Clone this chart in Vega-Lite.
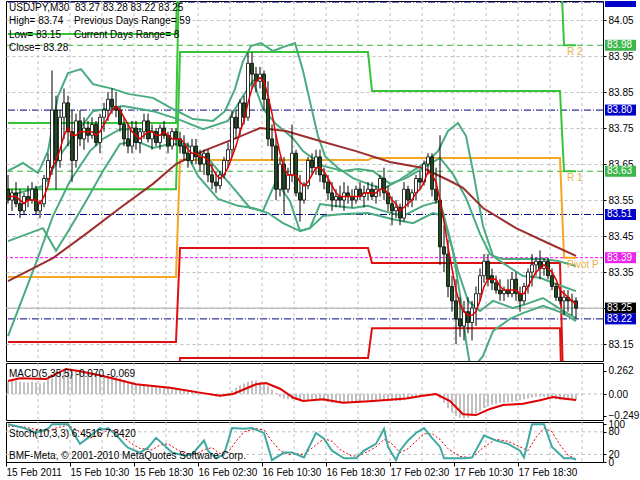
{
"$schema":"https://vega.github.io/schema/vega-lite/v6.json",
"background":"white",
"padding":{"left":3,"top":0,"right":0,"bottom":0},
"autosize":{"type":"pad"},
"bounds":"flush",
"spacing":2,
"config":{"font":"Liberation Sans","scale":{"continuousPadding":0},"view":{"stroke":"black","strokeWidth":1},"axis":{"labelFont":"Liberation Sans","labelFontSize":10,"labelColor":"black","tickColor":"black","domainColor":"black"}},
"datasets":{
"vg":[{"i":7.5},{"i":15.5},{"i":23.5},{"i":31.5},{"i":39.5},{"i":47.5},{"i":55.5},{"i":63.5},{"i":71.5},{"i":79.5},{"i":87.5},{"i":95.5},{"i":103.5},{"i":111.5},{"i":119.5},{"i":127.5},{"i":135.5},{"i":143.5}],
"bars":[
{"i":0,"o":83.58,"h":83.62,"l":83.54,"c":83.55,"m":83.56,"mh":0.14},
{"i":1,"o":83.55,"h":83.58,"l":83.52,"c":83.57,"m":83.56,"mh":0.15},
{"i":2,"o":83.57,"h":83.60,"l":83.53,"c":83.54,"m":83.56,"mh":0.15},
{"i":3,"o":83.54,"h":83.58,"l":83.50,"c":83.52,"m":83.55,"mh":0.14},
{"i":4,"o":83.52,"h":83.57,"l":83.51,"c":83.56,"m":83.54,"mh":0.13},
{"i":5,"o":83.56,"h":83.59,"l":83.53,"c":83.55,"m":83.55,"mh":0.13},
{"i":6,"o":83.55,"h":83.60,"l":83.54,"c":83.58,"m":83.55,"mh":0.14},
{"i":7,"o":83.58,"h":83.59,"l":83.51,"c":83.52,"m":83.55,"mh":0.13},
{"i":8,"o":83.52,"h":83.55,"l":83.50,"c":83.54,"m":83.54,"mh":0.12},
{"i":9,"o":83.54,"h":83.62,"l":83.53,"c":83.61,"m":83.56,"mh":0.13},
{"i":10,"o":83.61,"h":83.68,"l":83.59,"c":83.66,"m":83.59,"mh":0.17},
{"i":11,"o":83.64,"h":83.91,"l":83.62,"c":83.80,"m":83.64,"mh":0.22},
{"i":12,"o":83.80,"h":83.84,"l":83.58,"c":83.66,"m":83.66,"mh":0.25},
{"i":13,"o":83.66,"h":83.80,"l":83.64,"c":83.78,"m":83.69,"mh":0.27},
{"i":14,"o":83.78,"h":83.86,"l":83.72,"c":83.82,"m":83.73,"mh":0.28},
{"i":15,"o":83.82,"h":83.84,"l":83.70,"c":83.74,"m":83.75,"mh":0.28},
{"i":16,"o":83.74,"h":83.80,"l":83.60,"c":83.66,"m":83.73,"mh":0.26},
{"i":17,"o":83.66,"h":83.79,"l":83.64,"c":83.77,"m":83.73,"mh":0.26},
{"i":18,"o":83.77,"h":83.80,"l":83.70,"c":83.72,"m":83.74,"mh":0.25},
{"i":19,"o":83.72,"h":83.78,"l":83.69,"c":83.75,"m":83.74,"mh":0.25},
{"i":20,"o":83.75,"h":83.77,"l":83.71,"c":83.73,"m":83.74,"mh":0.24},
{"i":21,"o":83.73,"h":83.78,"l":83.72,"c":83.76,"m":83.74,"mh":0.23},
{"i":22,"o":83.76,"h":83.77,"l":83.70,"c":83.71,"m":83.73,"mh":0.22},
{"i":23,"o":83.71,"h":83.79,"l":83.68,"c":83.78,"m":83.74,"mh":0.21},
{"i":24,"o":83.78,"h":83.82,"l":83.74,"c":83.80,"m":83.76,"mh":0.21},
{"i":25,"o":83.80,"h":83.85,"l":83.77,"c":83.83,"m":83.78,"mh":0.21},
{"i":26,"o":83.83,"h":83.86,"l":83.79,"c":83.81,"m":83.80,"mh":0.21},
{"i":27,"o":83.81,"h":83.85,"l":83.78,"c":83.80,"m":83.81,"mh":0.20},
{"i":28,"o":83.80,"h":83.81,"l":83.74,"c":83.76,"m":83.80,"mh":0.18},
{"i":29,"o":83.76,"h":83.78,"l":83.70,"c":83.72,"m":83.78,"mh":0.16},
{"i":30,"o":83.72,"h":83.76,"l":83.68,"c":83.70,"m":83.76,"mh":0.14},
{"i":31,"o":83.70,"h":83.77,"l":83.68,"c":83.75,"m":83.74,"mh":0.12},
{"i":32,"o":83.75,"h":83.77,"l":83.69,"c":83.71,"m":83.73,"mh":0.11},
{"i":33,"o":83.71,"h":83.75,"l":83.68,"c":83.74,"m":83.72,"mh":0.10},
{"i":34,"o":83.74,"h":83.79,"l":83.72,"c":83.77,"m":83.73,"mh":0.10},
{"i":35,"o":83.77,"h":83.79,"l":83.71,"c":83.72,"m":83.74,"mh":0.10},
{"i":36,"o":83.72,"h":83.76,"l":83.69,"c":83.74,"m":83.74,"mh":0.09},
{"i":37,"o":83.74,"h":83.75,"l":83.70,"c":83.71,"m":83.73,"mh":0.09},
{"i":38,"o":83.71,"h":83.76,"l":83.69,"c":83.75,"m":83.73,"mh":0.08},
{"i":39,"o":83.75,"h":83.77,"l":83.72,"c":83.73,"m":83.74,"mh":0.08},
{"i":40,"o":83.73,"h":83.74,"l":83.68,"c":83.70,"m":83.73,"mh":0.07},
{"i":41,"o":83.70,"h":83.75,"l":83.69,"c":83.74,"m":83.72,"mh":0.07},
{"i":42,"o":83.74,"h":83.75,"l":83.70,"c":83.72,"m":83.72,"mh":0.07},
{"i":43,"o":83.72,"h":83.74,"l":83.68,"c":83.70,"m":83.72,"mh":0.06},
{"i":44,"o":83.70,"h":83.73,"l":83.66,"c":83.68,"m":83.71,"mh":0.05},
{"i":45,"o":83.68,"h":83.71,"l":83.64,"c":83.66,"m":83.69,"mh":0.04},
{"i":46,"o":83.66,"h":83.72,"l":83.65,"c":83.70,"m":83.68,"mh":0.03},
{"i":47,"o":83.70,"h":83.72,"l":83.65,"c":83.67,"m":83.68,"mh":0.03},
{"i":48,"o":83.67,"h":83.69,"l":83.63,"c":83.65,"m":83.67,"mh":0.02},
{"i":49,"o":83.65,"h":83.69,"l":83.62,"c":83.68,"m":83.67,"mh":0.01},
{"i":50,"o":83.68,"h":83.69,"l":83.60,"c":83.62,"m":83.66,"mh":0.00},
{"i":51,"o":83.62,"h":83.65,"l":83.58,"c":83.60,"m":83.64,"mh":-0.02},
{"i":52,"o":83.60,"h":83.63,"l":83.57,"c":83.59,"m":83.62,"mh":-0.03},
{"i":53,"o":83.59,"h":83.63,"l":83.58,"c":83.62,"m":83.61,"mh":-0.03},
{"i":54,"o":83.62,"h":83.67,"l":83.61,"c":83.66,"m":83.62,"mh":-0.02},
{"i":55,"o":83.66,"h":83.71,"l":83.64,"c":83.69,"m":83.64,"mh":0.01},
{"i":56,"o":83.69,"h":83.80,"l":83.67,"c":83.78,"m":83.67,"mh":0.04},
{"i":57,"o":83.78,"h":83.80,"l":83.72,"c":83.75,"m":83.70,"mh":0.07},
{"i":58,"o":83.75,"h":83.83,"l":83.73,"c":83.82,"m":83.74,"mh":0.10},
{"i":59,"o":83.82,"h":83.84,"l":83.76,"c":83.78,"m":83.77,"mh":0.12},
{"i":60,"o":83.78,"h":83.96,"l":83.77,"c":83.93,"m":83.82,"mh":0.14},
{"i":61,"o":83.93,"h":83.96,"l":83.86,"c":83.90,"m":83.86,"mh":0.15},
{"i":62,"o":83.90,"h":83.92,"l":83.85,"c":83.88,"m":83.88,"mh":0.15},
{"i":63,"o":83.88,"h":83.92,"l":83.86,"c":83.90,"m":83.89,"mh":0.14},
{"i":64,"o":83.90,"h":83.91,"l":83.80,"c":83.83,"m":83.88,"mh":0.12},
{"i":65,"o":83.83,"h":83.88,"l":83.70,"c":83.72,"m":83.84,"mh":0.09},
{"i":66,"o":83.72,"h":83.76,"l":83.66,"c":83.70,"m":83.79,"mh":0.05},
{"i":67,"o":83.70,"h":83.73,"l":83.55,"c":83.58,"m":83.73,"mh":0.01},
{"i":68,"o":83.58,"h":83.67,"l":83.56,"c":83.65,"m":83.68,"mh":-0.03},
{"i":69,"o":83.65,"h":83.67,"l":83.51,"c":83.58,"m":83.64,"mh":-0.05},
{"i":70,"o":83.58,"h":83.64,"l":83.57,"c":83.62,"m":83.62,"mh":-0.06},
{"i":71,"o":83.62,"h":83.76,"l":83.60,"c":83.68,"m":83.62,"mh":-0.06},
{"i":72,"o":83.68,"h":83.69,"l":83.56,"c":83.57,"m":83.62,"mh":-0.07},
{"i":73,"o":83.57,"h":83.62,"l":83.49,"c":83.55,"m":83.60,"mh":-0.08},
{"i":74,"o":83.55,"h":83.60,"l":83.54,"c":83.59,"m":83.59,"mh":-0.08},
{"i":75,"o":83.59,"h":83.67,"l":83.58,"c":83.66,"m":83.60,"mh":-0.07},
{"i":76,"o":83.66,"h":83.68,"l":83.62,"c":83.64,"m":83.62,"mh":-0.06},
{"i":77,"o":83.64,"h":83.69,"l":83.62,"c":83.67,"m":83.64,"mh":-0.06},
{"i":78,"o":83.67,"h":83.69,"l":83.60,"c":83.62,"m":83.64,"mh":-0.07},
{"i":79,"o":83.62,"h":83.64,"l":83.58,"c":83.60,"m":83.63,"mh":-0.08},
{"i":80,"o":83.60,"h":83.62,"l":83.55,"c":83.57,"m":83.61,"mh":-0.09},
{"i":81,"o":83.57,"h":83.60,"l":83.52,"c":83.55,"m":83.59,"mh":-0.10},
{"i":82,"o":83.55,"h":83.58,"l":83.53,"c":83.56,"m":83.57,"mh":-0.10},
{"i":83,"o":83.56,"h":83.59,"l":83.53,"c":83.55,"m":83.56,"mh":-0.10},
{"i":84,"o":83.55,"h":83.60,"l":83.52,"c":83.57,"m":83.56,"mh":-0.09},
{"i":85,"o":83.57,"h":83.59,"l":83.54,"c":83.56,"m":83.56,"mh":-0.09},
{"i":86,"o":83.56,"h":83.58,"l":83.53,"c":83.55,"m":83.56,"mh":-0.08},
{"i":87,"o":83.55,"h":83.59,"l":83.54,"c":83.58,"m":83.56,"mh":-0.08},
{"i":88,"o":83.58,"h":83.60,"l":83.55,"c":83.56,"m":83.56,"mh":-0.08},
{"i":89,"o":83.56,"h":83.59,"l":83.53,"c":83.57,"m":83.57,"mh":-0.07},
{"i":90,"o":83.57,"h":83.60,"l":83.55,"c":83.58,"m":83.57,"mh":-0.07},
{"i":91,"o":83.58,"h":83.60,"l":83.55,"c":83.56,"m":83.57,"mh":-0.07},
{"i":92,"o":83.56,"h":83.59,"l":83.54,"c":83.58,"m":83.57,"mh":-0.07},
{"i":93,"o":83.58,"h":83.62,"l":83.56,"c":83.61,"m":83.58,"mh":-0.06},
{"i":94,"o":83.61,"h":83.64,"l":83.55,"c":83.57,"m":83.58,"mh":-0.06},
{"i":95,"o":83.57,"h":83.59,"l":83.52,"c":83.54,"m":83.57,"mh":-0.07},
{"i":96,"o":83.54,"h":83.56,"l":83.48,"c":83.52,"m":83.55,"mh":-0.08},
{"i":97,"o":83.52,"h":83.55,"l":83.50,"c":83.53,"m":83.54,"mh":-0.08},
{"i":98,"o":83.53,"h":83.54,"l":83.48,"c":83.50,"m":83.52,"mh":-0.08},
{"i":99,"o":83.50,"h":83.60,"l":83.49,"c":83.58,"m":83.53,"mh":-0.07},
{"i":100,"o":83.58,"h":83.59,"l":83.53,"c":83.55,"m":83.54,"mh":-0.06},
{"i":101,"o":83.55,"h":83.58,"l":83.53,"c":83.57,"m":83.55,"mh":-0.05},
{"i":102,"o":83.57,"h":83.62,"l":83.55,"c":83.61,"m":83.57,"mh":-0.04},
{"i":103,"o":83.61,"h":83.63,"l":83.58,"c":83.60,"m":83.58,"mh":-0.03},
{"i":104,"o":83.60,"h":83.66,"l":83.59,"c":83.65,"m":83.60,"mh":-0.02},
{"i":105,"o":83.65,"h":83.68,"l":83.62,"c":83.67,"m":83.63,"mh":-0.01},
{"i":106,"o":83.67,"h":83.68,"l":83.56,"c":83.58,"m":83.62,"mh":0.00},
{"i":107,"o":83.58,"h":83.64,"l":83.54,"c":83.55,"m":83.60,"mh":-0.01},
{"i":108,"o":83.55,"h":83.73,"l":83.37,"c":83.42,"m":83.55,"mh":-0.05},
{"i":109,"o":83.42,"h":83.48,"l":83.35,"c":83.40,"m":83.49,"mh":-0.10},
{"i":110,"o":83.40,"h":83.44,"l":83.28,"c":83.31,"m":83.42,"mh":-0.16},
{"i":111,"o":83.31,"h":83.34,"l":83.24,"c":83.27,"m":83.36,"mh":-0.21},
{"i":112,"o":83.27,"h":83.33,"l":83.15,"c":83.22,"m":83.30,"mh":-0.25},
{"i":113,"o":83.22,"h":83.28,"l":83.17,"c":83.20,"m":83.26,"mh":-0.27},
{"i":114,"o":83.20,"h":83.27,"l":83.16,"c":83.24,"m":83.24,"mh":-0.28},
{"i":115,"o":83.24,"h":83.28,"l":83.18,"c":83.21,"m":83.23,"mh":-0.27},
{"i":116,"o":83.21,"h":83.27,"l":83.16,"c":83.25,"m":83.23,"mh":-0.25},
{"i":117,"o":83.25,"h":83.31,"l":83.20,"c":83.29,"m":83.24,"mh":-0.22},
{"i":118,"o":83.29,"h":83.36,"l":83.27,"c":83.34,"m":83.27,"mh":-0.19},
{"i":119,"o":83.34,"h":83.40,"l":83.32,"c":83.38,"m":83.31,"mh":-0.16},
{"i":120,"o":83.38,"h":83.40,"l":83.31,"c":83.33,"m":83.33,"mh":-0.14},
{"i":121,"o":83.34,"h":83.36,"l":83.30,"c":83.32,"m":83.33,"mh":-0.12},
{"i":122,"o":83.32,"h":83.34,"l":83.29,"c":83.30,"m":83.33,"mh":-0.11},
{"i":123,"o":83.30,"h":83.33,"l":83.27,"c":83.29,"m":83.31,"mh":-0.10},
{"i":124,"o":83.29,"h":83.31,"l":83.27,"c":83.30,"m":83.30,"mh":-0.10},
{"i":125,"o":83.30,"h":83.33,"l":83.28,"c":83.29,"m":83.30,"mh":-0.09},
{"i":126,"o":83.29,"h":83.35,"l":83.28,"c":83.33,"m":83.30,"mh":-0.09},
{"i":127,"o":83.33,"h":83.35,"l":83.27,"c":83.29,"m":83.30,"mh":-0.08},
{"i":128,"o":83.29,"h":83.31,"l":83.24,"c":83.27,"m":83.29,"mh":-0.07},
{"i":129,"o":83.27,"h":83.32,"l":83.26,"c":83.31,"m":83.29,"mh":-0.06},
{"i":130,"o":83.31,"h":83.36,"l":83.29,"c":83.35,"m":83.31,"mh":-0.05},
{"i":131,"o":83.35,"h":83.40,"l":83.31,"c":83.37,"m":83.33,"mh":-0.04},
{"i":132,"o":83.37,"h":83.39,"l":83.34,"c":83.38,"m":83.35,"mh":-0.03},
{"i":133,"o":83.38,"h":83.41,"l":83.33,"c":83.36,"m":83.36,"mh":-0.03},
{"i":134,"o":83.36,"h":83.39,"l":83.34,"c":83.38,"m":83.37,"mh":-0.03},
{"i":135,"o":83.38,"h":83.39,"l":83.33,"c":83.34,"m":83.36,"mh":-0.04},
{"i":136,"o":83.34,"h":83.36,"l":83.30,"c":83.31,"m":83.35,"mh":-0.05},
{"i":137,"o":83.31,"h":83.32,"l":83.27,"c":83.28,"m":83.33,"mh":-0.06},
{"i":138,"o":83.28,"h":83.30,"l":83.26,"c":83.27,"m":83.30,"mh":-0.07},
{"i":139,"o":83.27,"h":83.30,"l":83.23,"c":83.28,"m":83.29,"mh":-0.07},
{"i":140,"o":83.28,"h":83.30,"l":83.24,"c":83.27,"m":83.28,"mh":-0.07},
{"i":141,"o":83.27,"h":83.29,"l":83.23,"c":83.27,"m":83.27,"mh":-0.07},
{"i":142,"o":83.27,"h":83.28,"l":83.22,"c":83.25,"m":83.26,"mh":-0.07}
],
"piv":[
{"s":"R3","i":0,"v":84.011},{"s":"R3","i":42,"v":84.011},{"s":"R3","i":43,"v":84.45},{"s":"R3","i":138,"v":84.45},{"s":"R3","i":139,"v":84.35},{"s":"R3","i":142,"v":84.35},
{"s":"R2","i":0,"v":83.764},{"s":"R2","i":42,"v":83.764},{"s":"R2","i":43,"v":84.3},{"s":"R2","i":90,"v":84.3},{"s":"R2","i":91,"v":84.25},{"s":"R2","i":138,"v":84.25},{"s":"R2","i":139,"v":83.98},{"s":"R2","i":142,"v":83.98},
{"s":"R1","i":0,"v":83.58},{"s":"R1","i":42,"v":83.58},{"s":"R1","i":43,"v":83.961},{"s":"R1","i":90,"v":83.961},{"s":"R1","i":91,"v":83.853},{"s":"R1","i":138,"v":83.853},{"s":"R1","i":139,"v":83.63},{"s":"R1","i":142,"v":83.63},
{"s":"P","i":0,"v":83.336},{"s":"P","i":42,"v":83.336},{"s":"P","i":43,"v":83.661},{"s":"P","i":90,"v":83.661},{"s":"P","i":91,"v":83.667},{"s":"P","i":138,"v":83.667},{"s":"P","i":139,"v":83.39},{"s":"P","i":142,"v":83.39},
{"s":"S1","i":0,"v":83.156},{"s":"S1","i":42,"v":83.156},{"s":"S1","i":43,"v":83.417},{"s":"S1","i":90,"v":83.417},{"s":"S1","i":91,"v":83.375},{"s":"S1","i":138,"v":83.375},{"s":"S1","i":139,"v":82.95},{"s":"S1","i":142,"v":82.95},
{"s":"S2","i":0,"v":82.9},{"s":"S2","i":42,"v":82.9},{"s":"S2","i":43,"v":83.111},{"s":"S2","i":90,"v":83.111},{"s":"S2","i":91,"v":83.194},{"s":"S2","i":138,"v":83.194},{"s":"S2","i":139,"v":82.75},{"s":"S2","i":142,"v":82.75}
],
"bands":[
{"s":"U2","i":0,"v":83.631},{"s":"U2","i":3.75,"v":83.653},{"s":"U2","i":7.5,"v":83.625},{"s":"U2","i":10,"v":83.686},{"s":"U2","i":12.5,"v":83.839},{"s":"U2","i":15,"v":83.903},{"s":"U2","i":18.25,"v":83.914},{"s":"U2","i":21.25,"v":83.872},{"s":"U2","i":26.25,"v":83.859},{"s":"U2","i":30,"v":83.845},{"s":"U2","i":36.25,"v":83.834},{"s":"U2","i":41.25,"v":83.803},{"s":"U2","i":46.25,"v":83.775},{"s":"U2","i":51.25,"v":83.77},{"s":"U2","i":54.25,"v":83.797},{"s":"U2","i":56.75,"v":83.859},{"s":"U2","i":58.75,"v":83.936},{"s":"U2","i":60.75,"v":83.978},{"s":"U2","i":63.25,"v":83.986},{"s":"U2","i":66.25,"v":83.964},{"s":"U2","i":68.75,"v":83.975},{"s":"U2","i":71.75,"v":83.986},{"s":"U2","i":73.75,"v":83.909},{"s":"U2","i":75.75,"v":83.811},{"s":"U2","i":77.5,"v":83.728},{"s":"U2","i":79.25,"v":83.672},{"s":"U2","i":82.5,"v":83.639},{"s":"U2","i":86.25,"v":83.611},{"s":"U2","i":90,"v":83.595},{"s":"U2","i":93.75,"v":83.581},{"s":"U2","i":97.5,"v":83.603},{"s":"U2","i":101.25,"v":83.631},{"s":"U2","i":105,"v":83.659},{"s":"U2","i":107.5,"v":83.686},{"s":"U2","i":110,"v":83.742},{"s":"U2","i":112.5,"v":83.764},{"s":"U2","i":114.5,"v":83.728},{"s":"U2","i":116.25,"v":83.631},{"s":"U2","i":118.75,"v":83.478},{"s":"U2","i":121.25,"v":83.395},{"s":"U2","i":123.75,"v":83.386},{"s":"U2","i":128.75,"v":83.386},{"s":"U2","i":133.75,"v":83.386},{"s":"U2","i":137.5,"v":83.381},{"s":"U2","i":142,"v":83.367},
{"s":"U1","i":0,"v":83.561},{"s":"U1","i":8.75,"v":83.589},{"s":"U1","i":13.75,"v":83.686},{"s":"U1","i":21.25,"v":83.797},{"s":"U1","i":28.75,"v":83.811},{"s":"U1","i":36.25,"v":83.797},{"s":"U1","i":42.5,"v":83.775},{"s":"U1","i":48.75,"v":83.747},{"s":"U1","i":55,"v":83.77},{"s":"U1","i":58.75,"v":83.839},{"s":"U1","i":61.25,"v":83.881},{"s":"U1","i":63.75,"v":83.803},{"s":"U1","i":67,"v":83.761},{"s":"U1","i":71.25,"v":83.722},{"s":"U1","i":73.75,"v":83.686},{"s":"U1","i":78.75,"v":83.645},{"s":"U1","i":83.75,"v":83.631},{"s":"U1","i":87.5,"v":83.636},{"s":"U1","i":91.25,"v":83.631},{"s":"U1","i":95.5,"v":83.595},{"s":"U1","i":99.5,"v":83.611},{"s":"U1","i":103.75,"v":83.639},{"s":"U1","i":108,"v":83.667},{"s":"U1","i":111.25,"v":83.622},{"s":"U1","i":114.5,"v":83.556},{"s":"U1","i":118,"v":83.456},{"s":"U1","i":120.5,"v":83.4},{"s":"U1","i":123.75,"v":83.375},{"s":"U1","i":128.75,"v":83.339},{"s":"U1","i":133,"v":83.334},{"s":"U1","i":137,"v":83.317},{"s":"U1","i":142,"v":83.297},
{"s":"L1","i":0,"v":83.436},{"s":"L1","i":8.75,"v":83.472},{"s":"L1","i":12,"v":83.409},{"s":"L1","i":15.5,"v":83.472},{"s":"L1","i":19.5,"v":83.547},{"s":"L1","i":23.75,"v":83.631},{"s":"L1","i":28,"v":83.706},{"s":"L1","i":32,"v":83.714},{"s":"L1","i":36.25,"v":83.695},{"s":"L1","i":40.5,"v":83.706},{"s":"L1","i":44.5,"v":83.706},{"s":"L1","i":50.5,"v":83.659},{"s":"L1","i":57,"v":83.575},{"s":"L1","i":60.5,"v":83.528},{"s":"L1","i":63.75,"v":83.52},{"s":"L1","i":67,"v":83.603},{"s":"L1","i":70.5,"v":83.547},{"s":"L1","i":73,"v":83.464},{"s":"L1","i":75.5,"v":83.472},{"s":"L1","i":78,"v":83.539},{"s":"L1","i":81.25,"v":83.534},{"s":"L1","i":86.25,"v":83.528},{"s":"L1","i":90,"v":83.534},{"s":"L1","i":93.75,"v":83.52},{"s":"L1","i":98.75,"v":83.506},{"s":"L1","i":103.75,"v":83.534},{"s":"L1","i":108,"v":83.547},{"s":"L1","i":110,"v":83.464},{"s":"L1","i":112.5,"v":83.353},{"s":"L1","i":115,"v":83.27},{"s":"L1","i":118,"v":83.242},{"s":"L1","i":121.25,"v":83.27},{"s":"L1","i":126.25,"v":83.25},{"s":"L1","i":129.5,"v":83.261},{"s":"L1","i":133.75,"v":83.278},{"s":"L1","i":138.75,"v":83.242},{"s":"L1","i":142,"v":83.222},
{"s":"L2","i":0,"v":83.172},{"s":"L2","i":7,"v":83.375},{"s":"L2","i":11.25,"v":83.506},{"s":"L2","i":15.5,"v":83.603},{"s":"L2","i":20.5,"v":83.686},{"s":"L2","i":23.75,"v":83.72},{"s":"L2","i":28,"v":83.747},{"s":"L2","i":33.75,"v":83.747},{"s":"L2","i":38.75,"v":83.734},{"s":"L2","i":43,"v":83.714},{"s":"L2","i":47.5,"v":83.617},{"s":"L2","i":52.5,"v":83.553},{"s":"L2","i":57.5,"v":83.534},{"s":"L2","i":61.25,"v":83.528},{"s":"L2","i":65,"v":83.514},{"s":"L2","i":68.75,"v":83.486},{"s":"L2","i":73,"v":83.464},{"s":"L2","i":75.5,"v":83.472},{"s":"L2","i":78.75,"v":83.506},{"s":"L2","i":83.75,"v":83.511},{"s":"L2","i":90,"v":83.514},{"s":"L2","i":96.25,"v":83.497},{"s":"L2","i":101.25,"v":83.486},{"s":"L2","i":106.25,"v":83.514},{"s":"L2","i":108.75,"v":83.506},{"s":"L2","i":111.25,"v":83.408},{"s":"L2","i":113.25,"v":83.27},{"s":"L2","i":114.5,"v":83.159},{"s":"L2","i":115.75,"v":83.075},{"s":"L2","i":118.75,"v":83.117},{"s":"L2","i":121.25,"v":83.186},{"s":"L2","i":125.5,"v":83.22},{"s":"L2","i":128.75,"v":83.236},{"s":"L2","i":133.75,"v":83.256},{"s":"L2","i":138.75,"v":83.236},{"s":"L2","i":142,"v":83.214}
],
"lma":[{"i":0,"v":83.325},{"i":11.25,"v":83.389},{"i":19.5,"v":83.456},{"i":28,"v":83.528},{"i":36.25,"v":83.595},{"i":42,"v":83.65},{"i":48.75,"v":83.686},{"i":57,"v":83.722},{"i":63,"v":83.75},{"i":69.5,"v":83.742},{"i":78,"v":83.714},{"i":87,"v":83.686},{"i":95.5,"v":83.656},{"i":103.75,"v":83.639},{"i":110.5,"v":83.603},{"i":113.75,"v":83.584},{"i":118.75,"v":83.528},{"i":127,"v":83.472},{"i":135.5,"v":83.428},{"i":142,"v":83.395}],
"sig":[{"i":0,"v":0.148},{"i":3,"v":0.18},{"i":9.5,"v":0.17},{"i":14.5,"v":0.285},{"i":18,"v":0.26},{"i":23.75,"v":0.205},{"i":32,"v":0.11},{"i":40.5,"v":0.07},{"i":48.75,"v":0.01},{"i":53,"v":-0.02},{"i":56.25,"v":0.0},{"i":62,"v":0.11},{"i":64.5,"v":0.125},{"i":68,"v":0.06},{"i":71.25,"v":-0.04},{"i":73.75,"v":-0.08},{"i":78.75,"v":-0.06},{"i":83.75,"v":-0.1},{"i":91.25,"v":-0.08},{"i":99.5,"v":-0.05},{"i":103.75,"v":-0.02},{"i":107,"v":0.0},{"i":110.5,"v":-0.08},{"i":113.75,"v":-0.23},{"i":117,"v":-0.24},{"i":120.5,"v":-0.17},{"i":123.75,"v":-0.125},{"i":128.75,"v":-0.11},{"i":133,"v":-0.07},{"i":136.25,"v":-0.035},{"i":138.75,"v":-0.05},{"i":142,"v":-0.069}],
"sk":[{"i":0,"v":100},{"i":4,"v":90},{"i":7,"v":77},{"i":10,"v":88},{"i":11,"v":100},{"i":15,"v":100},{"i":18,"v":48},{"i":20,"v":64},{"i":23,"v":90},{"i":24,"v":86},{"i":25,"v":90},{"i":27,"v":72},{"i":29,"v":48},{"i":30,"v":38},{"i":33,"v":25},{"i":35,"v":38},{"i":37,"v":64},{"i":39,"v":45},{"i":41,"v":25},{"i":44,"v":17},{"i":46,"v":20},{"i":49,"v":57},{"i":50,"v":30},{"i":52,"v":10},{"i":54,"v":20},{"i":56,"v":90},{"i":59,"v":88},{"i":61,"v":90},{"i":64,"v":77},{"i":66,"v":5},{"i":69,"v":25},{"i":71,"v":25},{"i":74,"v":12},{"i":77,"v":77},{"i":79,"v":62},{"i":81,"v":30},{"i":84,"v":10},{"i":87,"v":10},{"i":89,"v":30},{"i":92,"v":48},{"i":94,"v":88},{"i":95,"v":40},{"i":97,"v":5},{"i":98,"v":30},{"i":100,"v":57},{"i":102,"v":77},{"i":104,"v":90},{"i":106,"v":64},{"i":108,"v":40},{"i":109,"v":10},{"i":114,"v":10},{"i":116,"v":12},{"i":119,"v":70},{"i":122,"v":57},{"i":125,"v":48},{"i":128,"v":30},{"i":129,"v":12},{"i":131,"v":100},{"i":134,"v":100},{"i":136,"v":40},{"i":139,"v":10},{"i":141,"v":10},{"i":142,"v":6.45}],
"sd":[{"i":0,"v":95},{"i":4,"v":93},{"i":7,"v":86},{"i":10,"v":82},{"i":12,"v":90},{"i":15,"v":98},{"i":18,"v":80},{"i":20,"v":62},{"i":23,"v":72},{"i":25,"v":85},{"i":27,"v":82},{"i":29,"v":65},{"i":31,"v":48},{"i":33,"v":36},{"i":36,"v":32},{"i":38,"v":45},{"i":40,"v":48},{"i":42,"v":35},{"i":44,"v":22},{"i":47,"v":20},{"i":49,"v":33},{"i":51,"v":38},{"i":53,"v":22},{"i":55,"v":25},{"i":57,"v":55},{"i":59,"v":80},{"i":62,"v":88},{"i":64,"v":85},{"i":66,"v":55},{"i":68,"v":30},{"i":70,"v":20},{"i":72,"v":22},{"i":74,"v":20},{"i":77,"v":45},{"i":79,"v":62},{"i":81,"v":55},{"i":83,"v":33},{"i":86,"v":15},{"i":88,"v":18},{"i":90,"v":28},{"i":92,"v":40},{"i":94,"v":60},{"i":96,"v":48},{"i":98,"v":25},{"i":100,"v":35},{"i":102,"v":55},{"i":104,"v":75},{"i":106,"v":75},{"i":108,"v":60},{"i":110,"v":35},{"i":113,"v":15},{"i":116,"v":11},{"i":119,"v":40},{"i":122,"v":60},{"i":125,"v":55},{"i":128,"v":40},{"i":130,"v":30},{"i":132,"v":65},{"i":134,"v":90},{"i":136,"v":80},{"i":138,"v":45},{"i":140,"v":18},{"i":142,"v":7.84}],
"tags":[{"p":83.98,"k":"g"},{"p":83.80,"k":"b"},{"p":83.63,"k":"g"},{"p":83.51,"k":"b"},{"p":83.39,"k":"m"},{"p":83.25,"k":"k"},{"p":83.22,"k":"b"}]
},
"vconcat":[
{
"width":597,"height":360,
"layer":[
{"data":{"values":[{"p":84.10},{"p":83.80},{"p":83.51},{"p":83.22}]},"mark":{"type":"rule","color":"#000080","strokeDash":[7,2,1,2],"strokeWidth":1},"encoding":{"y":{"field":"p","type":"quantitative","scale":{"domain":[83.103,84.103],"nice":false,"zero":false,"padding":0},"axis":{"orient":"right","title":null,"values":[83.15,83.25,83.35,83.45,83.55,83.65,83.75,83.85,83.95,84.05],"format":".2f","grid":true,"gridColor":"#c0c0c0","gridDash":[3,3],"tickSize":3,"labelPadding":2,"labelOverlap":false,"domain":false}}}},
{"data":{"name":"vg"},"mark":{"type":"rule","color":"#c0c0c0","strokeDash":[3,3],"strokeWidth":1},"encoding":{"x":{"field":"i","type":"quantitative","scale":{"domain":[-0.5,148.75],"nice":false,"zero":false,"padding":0},"axis":null}}},
{"data":{"values":[{"p":83.39}]},"mark":{"type":"rule","color":"#ff00ff","strokeDash":[3,2],"strokeWidth":1},"encoding":{"y":{"field":"p","type":"quantitative","scale":{"domain":[83.103,84.103],"nice":false,"zero":false,"padding":0},"axis":{"orient":"right","title":null,"values":[83.15,83.25,83.35,83.45,83.55,83.65,83.75,83.85,83.95,84.05],"format":".2f","grid":true,"gridColor":"#c0c0c0","gridDash":[3,3],"tickSize":3,"labelPadding":2,"labelOverlap":false,"domain":false}}}},
{"data":{"values":[{"p":83.98},{"p":83.63}]},"mark":{"type":"rule","color":"#3cb43c","strokeDash":[6,4],"strokeWidth":1},"encoding":{"y":{"field":"p","type":"quantitative","scale":{"domain":[83.103,84.103],"nice":false,"zero":false,"padding":0},"axis":{"orient":"right","title":null,"values":[83.15,83.25,83.35,83.45,83.55,83.65,83.75,83.85,83.95,84.05],"format":".2f","grid":true,"gridColor":"#c0c0c0","gridDash":[3,3],"tickSize":3,"labelPadding":2,"labelOverlap":false,"domain":false}}}},
{"data":{"values":[{"p":83.25}]},"mark":{"type":"rule","color":"#a8a8a8","strokeWidth":1},"encoding":{"y":{"field":"p","type":"quantitative","scale":{"domain":[83.103,84.103],"nice":false,"zero":false,"padding":0},"axis":{"orient":"right","title":null,"values":[83.15,83.25,83.35,83.45,83.55,83.65,83.75,83.85,83.95,84.05],"format":".2f","grid":true,"gridColor":"#c0c0c0","gridDash":[3,3],"tickSize":3,"labelPadding":2,"labelOverlap":false,"domain":false}}}},
{"data":{"name":"piv"},"mark":{"type":"line","strokeWidth":2,"clip":true},"encoding":{"x":{"field":"i","type":"quantitative","scale":{"domain":[-0.5,148.75],"nice":false,"zero":false,"padding":0},"axis":null},"y":{"field":"v","type":"quantitative","scale":{"domain":[83.103,84.103],"nice":false,"zero":false,"padding":0},"axis":{"orient":"right","title":null,"values":[83.15,83.25,83.35,83.45,83.55,83.65,83.75,83.85,83.95,84.05],"format":".2f","grid":true,"gridColor":"#c0c0c0","gridDash":[3,3],"tickSize":3,"labelPadding":2,"labelOverlap":false,"domain":false}},"detail":{"field":"s"},"color":{"field":"s","type":"nominal","scale":{"domain":["R3","R2","R1","P","S1","S2"],"range":["#38c438","#38c438","#38c438","#f5a623","#e01010","#e01010"]},"legend":null}}},
{"data":{"name":"bands"},"mark":{"type":"line","strokeWidth":2,"color":"#4aab80","clip":true},"encoding":{"x":{"field":"i","type":"quantitative","scale":{"domain":[-0.5,148.75],"nice":false,"zero":false,"padding":0},"axis":null},"y":{"field":"v","type":"quantitative","scale":{"domain":[83.103,84.103],"nice":false,"zero":false,"padding":0},"axis":{"orient":"right","title":null,"values":[83.15,83.25,83.35,83.45,83.55,83.65,83.75,83.85,83.95,84.05],"format":".2f","grid":true,"gridColor":"#c0c0c0","gridDash":[3,3],"tickSize":3,"labelPadding":2,"labelOverlap":false,"domain":false}},"detail":{"field":"s"}}},
{"data":{"name":"lma"},"mark":{"type":"line","strokeWidth":2,"color":"#9c2e2e"},"encoding":{"x":{"field":"i","type":"quantitative","scale":{"domain":[-0.5,148.75],"nice":false,"zero":false,"padding":0},"axis":null},"y":{"field":"v","type":"quantitative","scale":{"domain":[83.103,84.103],"nice":false,"zero":false,"padding":0},"axis":{"orient":"right","title":null,"values":[83.15,83.25,83.35,83.45,83.55,83.65,83.75,83.85,83.95,84.05],"format":".2f","grid":true,"gridColor":"#c0c0c0","gridDash":[3,3],"tickSize":3,"labelPadding":2,"labelOverlap":false,"domain":false}}}},
{"data":{"name":"bars"},"mark":{"type":"rule","color":"black","strokeWidth":1},"encoding":{"x":{"field":"i","type":"quantitative","scale":{"domain":[-0.5,148.75],"nice":false,"zero":false,"padding":0},"axis":null},"y":{"field":"l","type":"quantitative","scale":{"domain":[83.103,84.103],"nice":false,"zero":false,"padding":0},"axis":{"orient":"right","title":null,"values":[83.15,83.25,83.35,83.45,83.55,83.65,83.75,83.85,83.95,84.05],"format":".2f","grid":true,"gridColor":"#c0c0c0","gridDash":[3,3],"tickSize":3,"labelPadding":2,"labelOverlap":false,"domain":false}},"y2":{"field":"h"}}},
{"data":{"name":"bars"},"mark":{"type":"bar","size":3,"stroke":"black","strokeWidth":0.8},"encoding":{"x":{"field":"i","type":"quantitative","scale":{"domain":[-0.5,148.75],"nice":false,"zero":false,"padding":0},"axis":null},"y":{"field":"o","type":"quantitative","scale":{"domain":[83.103,84.103],"nice":false,"zero":false,"padding":0},"axis":{"orient":"right","title":null,"values":[83.15,83.25,83.35,83.45,83.55,83.65,83.75,83.85,83.95,84.05],"format":".2f","grid":true,"gridColor":"#c0c0c0","gridDash":[3,3],"tickSize":3,"labelPadding":2,"labelOverlap":false,"domain":false}},"y2":{"field":"c"},"fill":{"condition":{"test":"datum.c >= datum.o","value":"white"},"value":"#1e4d1e"}}},
{"data":{"name":"bars"},"mark":{"type":"line","strokeWidth":1.5,"color":"#e00000"},"encoding":{"x":{"field":"i","type":"quantitative","scale":{"domain":[-0.5,148.75],"nice":false,"zero":false,"padding":0},"axis":null},"y":{"field":"m","type":"quantitative","scale":{"domain":[83.103,84.103],"nice":false,"zero":false,"padding":0},"axis":{"orient":"right","title":null,"values":[83.15,83.25,83.35,83.45,83.55,83.65,83.75,83.85,83.95,84.05],"format":".2f","grid":true,"gridColor":"#c0c0c0","gridDash":[3,3],"tickSize":3,"labelPadding":2,"labelOverlap":false,"domain":false}}}},
{"data":{"values":[{"t":"R 2","p":83.98},{"t":"R 1","p":83.63},{"t":"Pivot P","p":83.39}]},"mark":{"type":"text","align":"left","baseline":"middle","dy":7,"fontSize":10,"color":"#e6b04a"},"encoding":{"x":{"datum":139.75,"type":"quantitative","scale":{"domain":[-0.5,148.75],"nice":false,"zero":false,"padding":0},"axis":null},"y":{"field":"p","type":"quantitative","scale":{"domain":[83.103,84.103],"nice":false,"zero":false,"padding":0},"axis":{"orient":"right","title":null,"values":[83.15,83.25,83.35,83.45,83.55,83.65,83.75,83.85,83.95,84.05],"format":".2f","grid":true,"gridColor":"#c0c0c0","gridDash":[3,3],"tickSize":3,"labelPadding":2,"labelOverlap":false,"domain":false}},"text":{"field":"t"}}},
{"data":{"values":[{"t":["USDJPY,M30\u00a0 83.27 83.28 83.22 83.25","High= 83.74","Low= 83.15","Close= 83.28"],"p":84.0975,"q":0.25},{"t":["Previous Days Range= 59","Current Days Range= 8"],"p":84.0605,"q":16.5}]},"mark":{"type":"text","align":"left","baseline":"top","fontSize":10,"lineHeight":13.3,"color":"black"},"encoding":{"x":{"field":"q","type":"quantitative","scale":{"domain":[-0.5,148.75],"nice":false,"zero":false,"padding":0},"axis":null},"y":{"field":"p","type":"quantitative","scale":{"domain":[83.103,84.103],"nice":false,"zero":false,"padding":0},"axis":{"orient":"right","title":null,"values":[83.15,83.25,83.35,83.45,83.55,83.65,83.75,83.85,83.95,84.05],"format":".2f","grid":true,"gridColor":"#c0c0c0","gridDash":[3,3],"tickSize":3,"labelPadding":2,"labelOverlap":false,"domain":false}},"text":{"field":"t"}}},
{"data":{"name":"tags"},"mark":{"type":"bar","orient":"horizontal","size":11},"encoding":{"x":{"datum":149.25,"type":"quantitative","scale":{"domain":[-0.5,148.75],"nice":false,"zero":false,"padding":0},"axis":null},"x2":{"datum":157},"y":{"field":"p","type":"quantitative","scale":{"domain":[83.103,84.103],"nice":false,"zero":false,"padding":0},"axis":{"orient":"right","title":null,"values":[83.15,83.25,83.35,83.45,83.55,83.65,83.75,83.85,83.95,84.05],"format":".2f","grid":true,"gridColor":"#c0c0c0","gridDash":[3,3],"tickSize":3,"labelPadding":2,"labelOverlap":false,"domain":false}},"fill":{"field":"k","type":"nominal","scale":{"domain":["g","b","m","k"],"range":["#3cb84a","#0000c8","#ee22ee","#000000"]},"legend":null}}},
{"data":{"name":"tags"},"mark":{"type":"text","align":"left","baseline":"middle","fontSize":10,"color":"white"},"encoding":{"x":{"datum":149.75,"type":"quantitative","scale":{"domain":[-0.5,148.75],"nice":false,"zero":false,"padding":0},"axis":null},"y":{"field":"p","type":"quantitative","scale":{"domain":[83.103,84.103],"nice":false,"zero":false,"padding":0},"axis":{"orient":"right","title":null,"values":[83.15,83.25,83.35,83.45,83.55,83.65,83.75,83.85,83.95,84.05],"format":".2f","grid":true,"gridColor":"#c0c0c0","gridDash":[3,3],"tickSize":3,"labelPadding":2,"labelOverlap":false,"domain":false}},"text":{"field":"p","format":".2f"}}},
{"data":{"values":[{"p":84.0947}]},"mark":{"type":"bar","orient":"horizontal","size":6,"color":"#0000c8"},"encoding":{"x":{"datum":149.25,"type":"quantitative","scale":{"domain":[-0.5,148.75],"nice":false,"zero":false,"padding":0},"axis":null},"x2":{"datum":157},"y":{"field":"p","type":"quantitative","scale":{"domain":[83.103,84.103],"nice":false,"zero":false,"padding":0},"axis":{"orient":"right","title":null,"values":[83.15,83.25,83.35,83.45,83.55,83.65,83.75,83.85,83.95,84.05],"format":".2f","grid":true,"gridColor":"#c0c0c0","gridDash":[3,3],"tickSize":3,"labelPadding":2,"labelOverlap":false,"domain":false}}}}
]
},
{
"width":597,"height":57,
"layer":[
{"data":{"values":[{"v":0}]},"mark":{"type":"rule","color":"#c0c0c0","strokeDash":[3,3],"strokeWidth":1},"encoding":{"y":{"field":"v","type":"quantitative","scale":{"domain":[-0.296,0.353],"nice":false,"zero":false,"padding":0},"axis":{"orient":"right","title":null,"values":[0.262,0,-0.249],"labelExpr":"datum.value == 0 ? '0.00' : format(datum.value, '.3f')","grid":false,"tickSize":3,"labelPadding":2,"labelOverlap":false,"domain":false}}}},
{"data":{"name":"vg"},"mark":{"type":"rule","color":"#c0c0c0","strokeDash":[3,3],"strokeWidth":1},"encoding":{"x":{"field":"i","type":"quantitative","scale":{"domain":[-0.5,148.75],"nice":false,"zero":false,"padding":0},"axis":null}}},
{"data":{"name":"bars"},"mark":{"type":"bar","size":2,"color":"#c0c0c0"},"encoding":{"x":{"field":"i","type":"quantitative","scale":{"domain":[-0.5,148.75],"nice":false,"zero":false,"padding":0},"axis":null},"y":{"field":"mh","type":"quantitative","scale":{"domain":[-0.296,0.353],"nice":false,"zero":false,"padding":0},"axis":{"orient":"right","title":null,"values":[0.262,0,-0.249],"labelExpr":"datum.value == 0 ? '0.00' : format(datum.value, '.3f')","grid":false,"tickSize":3,"labelPadding":2,"labelOverlap":false,"domain":false}},"y2":{"datum":0}}},
{"data":{"name":"sig"},"mark":{"type":"line","strokeWidth":2,"color":"#e00000"},"encoding":{"x":{"field":"i","type":"quantitative","scale":{"domain":[-0.5,148.75],"nice":false,"zero":false,"padding":0},"axis":null},"y":{"field":"v","type":"quantitative","scale":{"domain":[-0.296,0.353],"nice":false,"zero":false,"padding":0},"axis":{"orient":"right","title":null,"values":[0.262,0,-0.249],"labelExpr":"datum.value == 0 ? '0.00' : format(datum.value, '.3f')","grid":false,"tickSize":3,"labelPadding":2,"labelOverlap":false,"domain":false}}}},
{"data":{"values":[{"t":"MACD(5,35,5) -0.070 -0.069","v":0.228,"q":0.25}]},"mark":{"type":"text","align":"left","baseline":"middle","fontSize":10,"color":"black"},"encoding":{"x":{"field":"q","type":"quantitative","scale":{"domain":[-0.5,148.75],"nice":false,"zero":false,"padding":0},"axis":null},"y":{"field":"v","type":"quantitative","scale":{"domain":[-0.296,0.353],"nice":false,"zero":false,"padding":0},"axis":{"orient":"right","title":null,"values":[0.262,0,-0.249],"labelExpr":"datum.value == 0 ? '0.00' : format(datum.value, '.3f')","grid":false,"tickSize":3,"labelPadding":2,"labelOverlap":false,"domain":false}},"text":{"field":"t"}}}
]
},
{
"width":597,"height":40,
"layer":[
{"data":{"name":"vg"},"mark":{"type":"rule","color":"#c0c0c0","strokeDash":[3,3],"strokeWidth":1},"encoding":{"x":{"field":"i","type":"quantitative","scale":{"domain":[-0.5,148.75],"nice":false,"zero":false,"padding":0},"axis":{"title":null,"values":[-0.5,15.5,31.5,47.5,63.5,79.5,95.5,111.5,127.5],"labelExpr":"['15 Feb 2011','15 Feb 10:30','15 Feb 18:30','16 Feb 02:30','16 Feb 10:30','16 Feb 18:30','17 Feb 02:30','17 Feb 10:30','17 Feb 18:30'][round((datum.value+0.5)/16)]","labelAlign":"left","labelFlush":false,"labelBound":false,"labelOverlap":false,"tickSize":4,"labelPadding":1,"domain":false,"grid":false}}}},
{"data":{"values":[{"v":20},{"v":80}]},"mark":{"type":"rule","color":"#c0c0c0","strokeDash":[3,3],"strokeWidth":1},"encoding":{"y":{"field":"v","type":"quantitative","scale":{"domain":[0,106],"nice":false,"zero":false,"padding":0},"axis":{"orient":"right","title":null,"values":[0,20,80,100],"format":"d","grid":false,"tickSize":3,"labelPadding":2,"labelOverlap":false,"domain":false}}}},
{"data":{"name":"sd"},"mark":{"type":"line","strokeWidth":1,"color":"#e00000","strokeDash":[2,2]},"encoding":{"x":{"field":"i","type":"quantitative","scale":{"domain":[-0.5,148.75],"nice":false,"zero":false,"padding":0},"axis":{"title":null,"values":[-0.5,15.5,31.5,47.5,63.5,79.5,95.5,111.5,127.5],"labelExpr":"['15 Feb 2011','15 Feb 10:30','15 Feb 18:30','16 Feb 02:30','16 Feb 10:30','16 Feb 18:30','17 Feb 02:30','17 Feb 10:30','17 Feb 18:30'][round((datum.value+0.5)/16)]","labelAlign":"left","labelFlush":false,"labelBound":false,"labelOverlap":false,"tickSize":4,"labelPadding":1,"domain":false,"grid":false}},"y":{"field":"v","type":"quantitative","scale":{"domain":[0,106],"nice":false,"zero":false,"padding":0},"axis":{"orient":"right","title":null,"values":[0,20,80,100],"format":"d","grid":false,"tickSize":3,"labelPadding":2,"labelOverlap":false,"domain":false}}}},
{"data":{"name":"sk"},"mark":{"type":"line","strokeWidth":2,"color":"#3fa9a3"},"encoding":{"x":{"field":"i","type":"quantitative","scale":{"domain":[-0.5,148.75],"nice":false,"zero":false,"padding":0},"axis":{"title":null,"values":[-0.5,15.5,31.5,47.5,63.5,79.5,95.5,111.5,127.5],"labelExpr":"['15 Feb 2011','15 Feb 10:30','15 Feb 18:30','16 Feb 02:30','16 Feb 10:30','16 Feb 18:30','17 Feb 02:30','17 Feb 10:30','17 Feb 18:30'][round((datum.value+0.5)/16)]","labelAlign":"left","labelFlush":false,"labelBound":false,"labelOverlap":false,"tickSize":4,"labelPadding":1,"domain":false,"grid":false}},"y":{"field":"v","type":"quantitative","scale":{"domain":[0,106],"nice":false,"zero":false,"padding":0},"axis":{"orient":"right","title":null,"values":[0,20,80,100],"format":"d","grid":false,"tickSize":3,"labelPadding":2,"labelOverlap":false,"domain":false}}}},
{"data":{"values":[{"t":"Stoch(10,3,3) 6.4516 7.8420","v":74,"q":0.25},{"t":"BMF-Meta, \u00a9 2001-2010 MetaQuotes Software Corp.","v":16,"q":0.25}]},"mark":{"type":"text","align":"left","baseline":"middle","fontSize":10,"color":"black"},"encoding":{"x":{"field":"q","type":"quantitative","scale":{"domain":[-0.5,148.75],"nice":false,"zero":false,"padding":0},"axis":{"title":null,"values":[-0.5,15.5,31.5,47.5,63.5,79.5,95.5,111.5,127.5],"labelExpr":"['15 Feb 2011','15 Feb 10:30','15 Feb 18:30','16 Feb 02:30','16 Feb 10:30','16 Feb 18:30','17 Feb 02:30','17 Feb 10:30','17 Feb 18:30'][round((datum.value+0.5)/16)]","labelAlign":"left","labelFlush":false,"labelBound":false,"labelOverlap":false,"tickSize":4,"labelPadding":1,"domain":false,"grid":false}},"y":{"field":"v","type":"quantitative","scale":{"domain":[0,106],"nice":false,"zero":false,"padding":0},"axis":{"orient":"right","title":null,"values":[0,20,80,100],"format":"d","grid":false,"tickSize":3,"labelPadding":2,"labelOverlap":false,"domain":false}},"text":{"field":"t"}}}
]
}
]
}
